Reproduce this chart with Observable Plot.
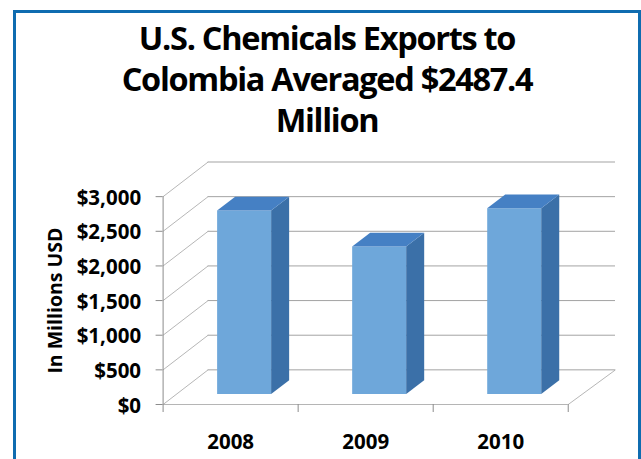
<!DOCTYPE html>
<html>
<head>
<meta charset="utf-8">
<script src="https://cdn.jsdelivr.net/npm/d3@7"></script>
<script src="https://cdn.jsdelivr.net/npm/@observablehq/plot@0.6"></script>
<style>
  html, body { margin: 0; padding: 0; background: #fff; overflow: hidden; }
  body { position: relative; width: 641px; height: 459px; font-family: "Open Sans", sans-serif; color: #000; }
  #frame { position: absolute; left: 13px; top: 10px; width: 622px; height: 470px; border: 3px solid #0f6cb0; }
  #title { position: absolute; left: 14px; top: 17px; width: 626px; text-align: center;
           font-size: 32.5px; line-height: 41px; font-weight: 700; letter-spacing: -1.3px; }
  #chart { position: absolute; left: 0; top: 150px; }
</style>
</head>
<body>
<div id="frame"></div>
<div id="title">U.S. Chemicals Exports to<br>Colombia Averaged $2487.4<br>Million</div>
<div id="chart"></div>
<script>
// Annual exports, millions of USD
const years = ["2008", "2009", "2010"];
const exportsUsd = [2650, 2130, 2682];
const valueTicks = [0, 500, 1000, 1500, 2000, 2500, 3000];
const categoryEdges = [0, 1, 2, 3];

// Oblique projection: one unit of depth shifts a point right and up in data units
const depthX = 1 / 3;
const depthY = 500;
const wallEnd = 3.35;
const barLeft = 0.3, barRight = 0.7, barNear = 0.3, barFar = 0.7;

const project = (c, v, d) => ({x: c + d * depthX, y: v + d * depthY});

function face(corners) {
  return years.flatMap((year, i) =>
    corners.map(([c, top, d]) => ({
      year,
      ...project(i + c, top ? exportsUsd[i] : 0, d)
    }))
  );
}

const frontFaces = face([[barLeft, 0, barNear], [barRight, 0, barNear], [barRight, 1, barNear], [barLeft, 1, barNear]]);
const sideFaces = face([[barRight, 0, barNear], [barRight, 0, barFar], [barRight, 1, barFar], [barRight, 1, barNear]]);
const topFaces = face([[barLeft, 1, barNear], [barRight, 1, barNear], [barRight, 1, barFar], [barLeft, 1, barFar]]);

const gridColor = "#a3a3a3";
const axisColor = "#8c8c8c";
const barFace = o => Plot.line(o.data, {x: "x", y: "y", z: "year", fill: o.fill, stroke: "none"});

const chart = Plot.plot({
  width: 641,
  height: 309,
  marginLeft: 162.6,
  marginRight: 26,
  marginTop: 11.5,
  marginBottom: 55,
  x: {domain: [0, wallEnd], range: [162.6, 615]},
  y: {domain: [0, 3500], range: [254, 11.5]},
  style: {fontFamily: '"Open Sans", sans-serif', fontWeight: 700, fontSize: "20.5px", background: "transparent", overflow: "visible"},
  marks: [
    // Back wall and side wall
    Plot.ruleY(valueTicks, {y: d => d + depthY, x1: depthX, x2: wallEnd, stroke: gridColor, strokeWidth: 1}),
    Plot.link(valueTicks, {x1: 0, y1: d => d, x2: depthX, y2: d => d + depthY, stroke: gridColor, strokeWidth: 0.8}),
    // Floor edges
    Plot.ruleY([0], {x1: 0, x2: 3, stroke: "#b5b5b5", strokeWidth: 1.2}),
    Plot.link([0], {x1: 3, y1: 0, x2: wallEnd, y2: depthY, stroke: gridColor, strokeWidth: 0.8}),
    Plot.ruleX([0], {y1: 0, y2: 3000, stroke: axisColor}),
    // Bars
    barFace({data: frontFaces, fill: "#6ea7da"}),
    barFace({data: sideFaces, fill: "#3b70a8"}),
    barFace({data: topFaces, fill: "#4580c4"}),
    // Axes
    Plot.axisY({ticks: valueTicks, anchor: "left", label: null, tickSize: 7, stroke: axisColor, tickFormat: () => ""}),
    Plot.axisY({
      ticks: valueTicks, anchor: "left", label: null, tickSize: 0, tickPadding: 22, dy: 1.5,
      fill: "#000", tickFormat: d => "$" + d3.format(",")(d)
    }),
    Plot.axisX({ticks: categoryEdges, anchor: "bottom", label: null, tickSize: 8, stroke: axisColor, tickFormat: () => ""}),
    Plot.axisX({
      ticks: years.map((_, i) => i + 0.5), anchor: "bottom", label: null, tickSize: 0, tickPadding: 30,
      fill: "#000", tickFormat: d => years[Math.floor(d)]
    }),
    Plot.text(["In Millions USD"], {
      y: () => 1500, frameAnchor: "left", textAnchor: "middle", dx: -107.5, rotate: -90,
      text: d => d, fill: "#000", stroke: "none", fontSize: 19.5
    })
  ]
});
document.getElementById("chart").appendChild(chart);
</script>
</body>
</html>
